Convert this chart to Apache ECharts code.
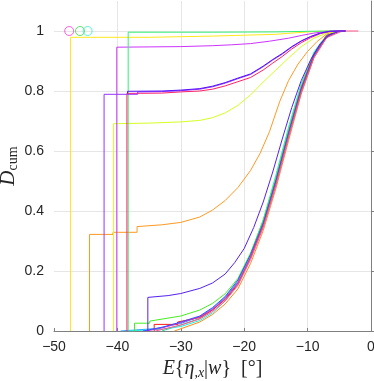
<!DOCTYPE html>
<html>
<head>
<meta charset="utf-8">
<script src="https://cdn.jsdelivr.net/npm/echarts@6/dist/echarts.min.js"></script>
<style>
  html, body { margin: 0; padding: 0; background: #fff; }
  #chart { width: 374px; height: 381px; }
</style>
</head>
<body>
<div id="chart"></div>
<script>
// axis ticks
const xTicks = [-50, -40, -30, -20, -10, 0];
const yTicks = [0, 0.2, 0.4, 0.6, 0.8, 1];

// curves that jump high right at the start
const cYellow = [[-47.4,0],[-47.4,0.979],[-35,0.979],[-30,0.981],[-25,0.983],[-20,0.986],[-15,0.989],[-12,0.994],[-9,0.998],[-7,1],[-4,1]];
const cSpring = [[-38.3,0],[-38.3,0.996],[-25,0.996],[-15,0.997],[-10,0.999],[-6,1],[-4,1]];
const cOrchid = [[-40.1,0],[-40.1,0.946],[-35,0.947],[-30,0.948],[-25,0.951],[-22,0.954],[-19,0.958],[-16,0.966],[-13,0.976],[-11,0.985],[-9,0.993],[-7,0.999],[-5,1],[-4,1]];
const cPurple = [[-42.1,0],[-42.1,0.789],[-36.8,0.789],[-36.8,0.797],[-33,0.798],[-30,0.801],[-27,0.806],[-25,0.814],[-23,0.826],[-21,0.841],[-19,0.855],[-17,0.881],[-15.5,0.903],[-14,0.923],[-12.5,0.946],[-11,0.966],[-9.5,0.981],[-8,0.993],[-6.5,0.999],[-5,1],[-4,1]];
const cBlue = [[-38.4,0.792],[-38.4,0.799],[-33,0.8],[-30,0.803],[-27,0.808],[-25,0.816],[-23,0.828],[-21,0.843],[-19,0.857],[-17,0.883],[-15.5,0.905],[-14,0.925],[-12.5,0.948],[-11,0.967],[-9.5,0.982],[-8,0.993],[-6.5,0.999],[-5,1],[-4,1]];
const cRose = [[-38.5,0],[-38.5,0.792],[-33,0.793],[-30,0.797],[-27,0.8],[-25,0.806],[-23,0.817],[-21,0.831],[-19,0.845],[-17,0.87],[-15.5,0.893],[-14,0.915],[-12.5,0.94],[-11,0.961],[-9.5,0.978],[-8,0.991],[-6.5,0.998],[-5,1],[-4,1]];
const cLime = [[-40.6,0],[-40.6,0.691],[-35,0.693],[-30,0.697],[-27,0.702],[-25,0.711],[-23,0.727],[-21,0.752],[-19,0.787],[-17,0.83],[-15,0.87],[-13,0.91],[-11,0.948],[-9,0.976],[-7,0.993],[-5,1],[-4,1]];
const cOrange = [[-44.4,0],[-44.4,0.322],[-40.7,0.322],[-40.7,0.329],[-36.9,0.329],[-36.9,0.348],[-33,0.354],[-30,0.362],[-27,0.38],[-25,0.403],[-23,0.435],[-21,0.478],[-19,0.535],[-17.5,0.592],[-16,0.665],[-14.4,0.765],[-13,0.835],[-11.5,0.89],[-10,0.932],[-8.5,0.965],[-7,0.99],[-5.5,1],[-4,1]];
const cViolet = [[-35.2,0],[-35.2,0.112],[-32,0.118],[-30,0.125],[-27,0.142],[-25,0.16],[-23,0.19],[-21.5,0.228],[-20,0.275],[-18.5,0.345],[-17,0.43],[-15.5,0.53],[-14,0.64],[-12.5,0.745],[-11,0.835],[-9.5,0.905],[-8,0.958],[-6.5,0.988],[-5,1],[-4,1]];

// the bundle starting near zero
const bGreen = [[-37.3,0],[-37.3,0.026],[-34.9,0.026],[-34.9,0.033],[-30,0.05],[-27,0.07],[-25,0.092],[-23,0.124],[-21,0.175],[-19,0.26],[-17,0.37],[-15,0.51],[-13,0.67],[-11,0.815],[-9,0.925],[-7,0.985],[-5,1],[-4,1]];
const bRed = [[-34.2,0],[-34.2,0.022],[-30.5,0.022],[-30.5,0.03],[-27,0.045],[-25,0.07],[-23,0.105],[-21,0.155],[-19,0.245],[-17,0.355],[-15,0.5],[-13,0.66],[-11,0.81],[-9,0.922],[-7,0.985],[-5,1],[-4,1]];
const bCyan = [[-38.2,0],[-38.2,0.004],[-33,0.006],[-30,0.015],[-27,0.035],[-25,0.06],[-23,0.1],[-21,0.16],[-19,0.25],[-17,0.37],[-15,0.52],[-13,0.68],[-11,0.825],[-9,0.93],[-7,0.987],[-5,1],[-4,1]];
const bSky = [[-39.5,0],[-39.5,0.003],[-34,0.008],[-30,0.025],[-27,0.048],[-25,0.075],[-23,0.112],[-21,0.165],[-19,0.255],[-17,0.365],[-15,0.51],[-13,0.67],[-11,0.815],[-9,0.925],[-7,0.985],[-5,1],[-4,1]];
const bRoyal = [[-36,0],[-36,0.005],[-33,0.012],[-30,0.03],[-27,0.05],[-25,0.078],[-23,0.115],[-21,0.17],[-19,0.255],[-17,0.36],[-15,0.5],[-13,0.66],[-11,0.805],[-9,0.918],[-7,0.982],[-5,1],[-4,1]];
const bMagenta = [[-35.5,0],[-35.5,0.005],[-33,0.01],[-30,0.028],[-27,0.047],[-25,0.072],[-23,0.108],[-21,0.16],[-19,0.245],[-17,0.35],[-15,0.49],[-13,0.65],[-11,0.8],[-9,0.915],[-7,0.98],[-5,1],[-4,1]];
const bPink = [[-34,0],[-34,0.004],[-30,0.02],[-27,0.04],[-25,0.065],[-23,0.1],[-21,0.152],[-19,0.238],[-17,0.345],[-15,0.485],[-13,0.645],[-11,0.795],[-9,0.912],[-7,0.978],[-4.5,1],[-2,1]];
const bAmber = [[-31,0],[-27,0.03],[-25,0.055],[-23,0.09],[-21,0.14],[-19,0.225],[-17,0.335],[-15,0.475],[-13,0.635],[-11,0.79],[-9,0.91],[-7,0.978],[-5,1],[-4,1]];
const bTeal = [[-33,0],[-33,0.003],[-30,0.02],[-27,0.042],[-25,0.07],[-23,0.108],[-21,0.162],[-19,0.25],[-17,0.362],[-15,0.505],[-13,0.665],[-11,0.812],[-9,0.922],[-7,0.984],[-5,1],[-4,1]];

// single-value sets drawn as circles
const pMagenta = [[-47.6, 1]];
const pGreen = [[-45.9, 1]];
const pCyan = [[-44.7, 1]];

const lines = [
  [bAmber, '#ff8c1a'], [bTeal, '#22dd99'], [bSky, '#2b9cff'], [bCyan, '#22eedd'],
  [bGreen, '#44ee22'], [bRed, '#ff1a1a'], [bMagenta, '#ee22cc'], [bRoyal, '#3355ff'],
  [bPink, '#ff5588'], [cViolet, '#5522ee'], [cOrange, '#ff9922'], [cLime, '#d4ff22'],
  [cYellow, '#ffe81a'], [cOrchid, '#cc33ff'], [cSpring, '#33ee77'],
  [cRose, '#ff2266'], [cPurple, '#9933ff'], [cBlue, '#5511ff']
];
const dots = [[pMagenta, '#ff33dd'], [pGreen, '#33dd44'], [pCyan, '#33eecc']];

const chart = echarts.init(document.getElementById('chart'));

const series = lines.map(([d, c]) => ({
  type: 'line', data: d, symbol: 'none', animation: false,
  lineStyle: { color: c, width: 1 }
})).concat(dots.map(([d, c]) => ({
  type: 'scatter', data: d, symbol: 'circle', symbolSize: 9, animation: false,
  itemStyle: { color: 'rgba(0,0,0,0)', borderColor: c, borderWidth: 1 }
})));

const minus = v => String(v).replace('-', '\u2212');
const serif = 'Liberation Serif';

chart.setOption({
  backgroundColor: '#fff',
  grid: { left: 54, right: 3, top: 1, bottom: 50, outerBoundsMode: 'none' },
  xAxis: {
    type: 'value', min: xTicks[0], max: xTicks[xTicks.length - 1], interval: 10,
    name: '{i|E}{{i|η}{s|,}{si|x}|{i|w}}  [°]',
    nameLocation: 'middle', nameGap: 22,
    nameTextStyle: {
      fontFamily: serif, fontSize: 20, color: '#262626',
      rich: {
        i: { fontFamily: serif, fontStyle: 'italic', fontSize: 20, color: '#262626' },
        s: { fontFamily: serif, fontSize: 14, color: '#262626', padding: [8, 0, 0, 0] },
        si: { fontFamily: serif, fontStyle: 'italic', fontSize: 14, color: '#262626', padding: [8, 0, 0, 0] }
      }
    },
    axisLine: { show: true, onZero: false, lineStyle: { color: '#808080', width: 1 } },
    axisTick: { show: true, inside: true, length: 3, lineStyle: { color: '#808080' } },
    axisLabel: { fontFamily: 'Liberation Sans', fontSize: 14, color: '#262626', margin: 9, formatter: minus },
    splitLine: { show: true, showMinLine: false, lineStyle: { color: '#e6e6e6', width: 1 } }
  },
  yAxis: {
    type: 'value', min: 0, max: 1.1, interval: 0.2,
    name: '{i|D}{s|cum}',
    nameLocation: 'middle', nameGap: 34, nameRotate: 90, nameMoveOverlap: false,
    nameTextStyle: {
      fontFamily: serif, fontSize: 20, color: '#262626',
      rich: {
        i: { fontFamily: serif, fontStyle: 'italic', fontSize: 21, color: '#262626' },
        s: { fontFamily: serif, fontSize: 14, color: '#262626', padding: [9, 0, 0, 0] }
      }
    },
    axisLine: { show: true, lineStyle: { color: '#808080', width: 1 } },
    axisTick: { show: true, inside: true, length: 3, lineStyle: { color: '#808080' } },
    axisLabel: {
      fontFamily: 'Liberation Sans', fontSize: 14, color: '#262626', margin: 10,
      showMaxLabel: false,
      formatter: v => (v > 1.05 ? '' : String(+v.toFixed(1)))
    },
    splitLine: { show: true, showMinLine: false, showMaxLine: false, lineStyle: { color: '#e6e6e6', width: 1 } }
  },
  series: series
});
</script>
</body>
</html>
